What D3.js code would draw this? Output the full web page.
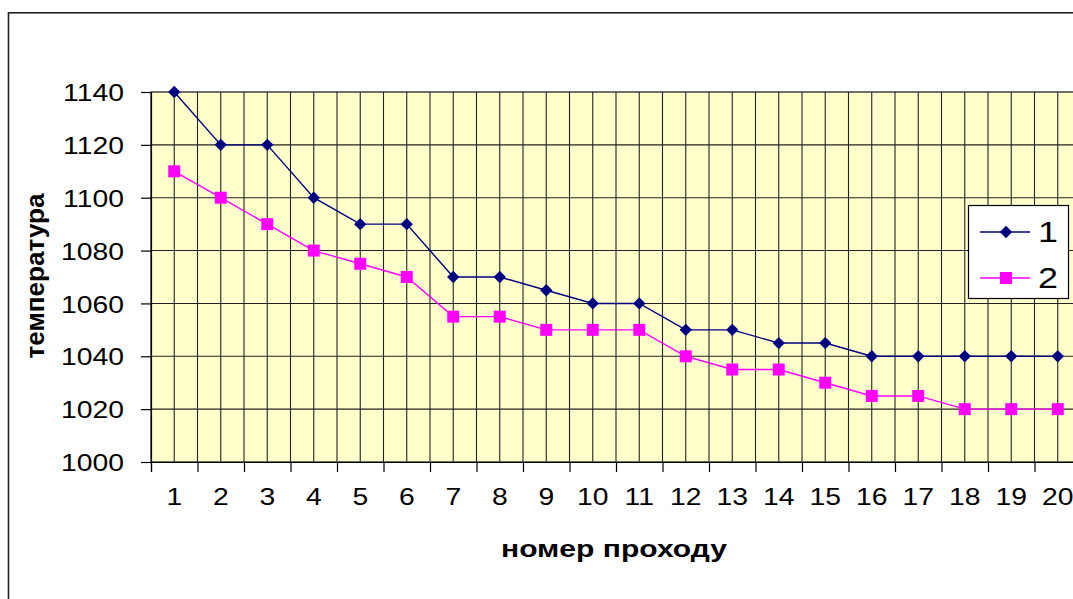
<!DOCTYPE html>
<html><head><meta charset="utf-8">
<script src="https://cdn.jsdelivr.net/npm/d3@7/dist/d3.min.js"></script>
<style>
html,body{margin:0;padding:0;background:#fff;overflow:hidden}
text{font-family:"Liberation Sans",Arial,sans-serif;fill:#000}
</style></head>
<body>
<svg id="chart" width="1073" height="599"></svg>
<script>
const categories = ["1","2","3","4","5","6","7","8","9","10","11","12","13","14","15","16","17","18","19","20"];
const series1 = [1140,1120,1120,1100,1090,1090,1070,1070,1065,1060,1060,1050,1050,1045,1045,1040,1040,1040,1040,1040];
const series2 = [1110,1100,1090,1080,1075,1070,1055,1055,1050,1050,1050,1040,1035,1035,1030,1025,1025,1020,1020,1020];
const seriesNames = ["1","2"];
const yTicks = [1000,1020,1040,1060,1080,1100,1120,1140];
const xTitle = "номер проходу";
const yTitle = "температура";

const svg = d3.select("#chart");
const L = 151, R = 1081, T = 92, B = 462;

// outer chart frame (partly cut off)
svg.append("rect").attr("x",8.5).attr("y",12.8).attr("width",1200).attr("height",800)
  .attr("fill","none").attr("stroke","#222").attr("stroke-width",1.6);

const x = d3.scaleBand().domain(categories).range([L,R]).padding(0);
const xb = d3.scaleLinear().domain([0,categories.length]).range([L,R]);
const y = d3.scaleLinear().domain([1000,1140]).range([B,T]);

// plot area
svg.append("rect").attr("x",L).attr("y",T).attr("width",R-L).attr("height",B-T)
  .attr("fill","#FFFFCC").attr("stroke","#808080").attr("stroke-width",1);

const grid = svg.append("g").attr("stroke","#222").attr("stroke-width",1.1);
d3.range(0,categories.length+1).forEach(i=>{
  grid.append("line").attr("x1",xb(i)).attr("x2",xb(i)).attr("y1",T).attr("y2",B);
});
categories.forEach(c=>{
  const cx = x(c)+x.bandwidth()/2;
  grid.append("line").attr("x1",cx).attr("x2",cx).attr("y1",T).attr("y2",B);
});
yTicks.forEach(v=>{
  grid.append("line").attr("x1",L).attr("x2",R).attr("y1",y(v)).attr("y2",y(v));
});

// y axis
const yAxis = svg.append("g").attr("transform",`translate(${L},0)`)
  .call(d3.axisLeft(y).tickValues(yTicks).tickSize(10).tickPadding(17).tickFormat(d3.format("d")));
yAxis.select(".domain").attr("stroke","#000").attr("stroke-width",1.2);
yAxis.selectAll(".tick line").attr("stroke","#000").attr("stroke-width",1.2);
yAxis.selectAll(".tick text").attr("font-size",24).attr("font-family","Liberation Sans, Arial, sans-serif")
  .attr("fill","#000").attr("dy","0.36em")
  .each(function(){ const w=this.getComputedTextLength(); d3.select(this).attr("textLength",w*1.18).attr("lengthAdjust","spacingAndGlyphs"); });

// x axis: boundary ticks
const xAxis = svg.append("g").attr("transform",`translate(0,${B})`)
  .call(d3.axisBottom(xb).tickValues(d3.range(0,categories.length+1)).tickSize(10).tickFormat(""));
xAxis.select(".domain").attr("stroke","#000").attr("stroke-width",1.2);
xAxis.selectAll(".tick line").attr("stroke","#000").attr("stroke-width",1.2);
const xLab = svg.append("g").attr("transform",`translate(0,${B})`)
  .call(d3.axisBottom(x).tickSize(0).tickPadding(26));
xLab.select(".domain").remove();
xLab.selectAll(".tick text").attr("font-size",24).attr("font-family","Liberation Sans, Arial, sans-serif")
  .attr("fill","#000").attr("dy","0.71em")
  .each(function(){ const w=this.getComputedTextLength(); d3.select(this).attr("textLength",w*1.18).attr("lengthAdjust","spacingAndGlyphs"); });

// titles
svg.append("text").attr("x",(L+R)/2-2).attr("y",557).attr("text-anchor","middle")
  .attr("font-size",23).attr("font-weight","bold").attr("textLength",226).attr("lengthAdjust","spacingAndGlyphs")
  .text(xTitle);
svg.append("text").attr("transform","translate(44,276) rotate(-90)").attr("text-anchor","middle")
  .attr("font-size",25).attr("font-weight","bold").attr("textLength",165).attr("lengthAdjust","spacingAndGlyphs")
  .text(yTitle);

const cx = c => x(c)+x.bandwidth()/2;
const line = d3.line().x((d,i)=>cx(categories[i])).y(d=>y(d));
const colors = ["#000080","#FF00FF"];
const data = [series1, series2];

data.forEach((s,k)=>{
  svg.append("path").datum(s).attr("d",line).attr("fill","none")
    .attr("stroke",colors[k]).attr("stroke-width",1.4);
});
const diamond = d3.symbol().type(d3.symbolSquare).size(76);
svg.append("g").selectAll("path").data(series1).join("path")
  .attr("d",diamond)
  .attr("transform",(d,i)=>`translate(${cx(categories[i])},${y(d)}) rotate(45)`)
  .attr("fill",colors[0]);
svg.append("g").selectAll("rect").data(series2).join("rect")
  .attr("x",(d,i)=>cx(categories[i])-6).attr("y",d=>y(d)-6)
  .attr("width",12).attr("height",12).attr("fill",colors[1]);

// legend
const lg = svg.append("g");
lg.append("rect").attr("x",968.5).attr("y",205.5).attr("width",100).attr("height",93)
  .attr("fill","#fff").attr("stroke","#000").attr("stroke-width",1.2);
const ly = [232, 278];
seriesNames.forEach((n,k)=>{
  lg.append("line").attr("x1",980).attr("x2",1030).attr("y1",ly[k]).attr("y2",ly[k])
    .attr("stroke",colors[k]).attr("stroke-width",1.4);
  if(k===0){
    lg.append("path").attr("d",diamond).attr("transform",`translate(1006,${ly[k]}) rotate(45)`).attr("fill",colors[k]);
  } else {
    lg.append("rect").attr("x",1000).attr("y",ly[k]-6).attr("width",12).attr("height",12).attr("fill",colors[k]);
  }
  lg.append("text").attr("x",1038).attr("y",ly[k]).attr("dy","0.36em").attr("font-size",29)
    .attr("textLength",20).attr("lengthAdjust","spacingAndGlyphs").text(n);
});
</script>
</body></html>
